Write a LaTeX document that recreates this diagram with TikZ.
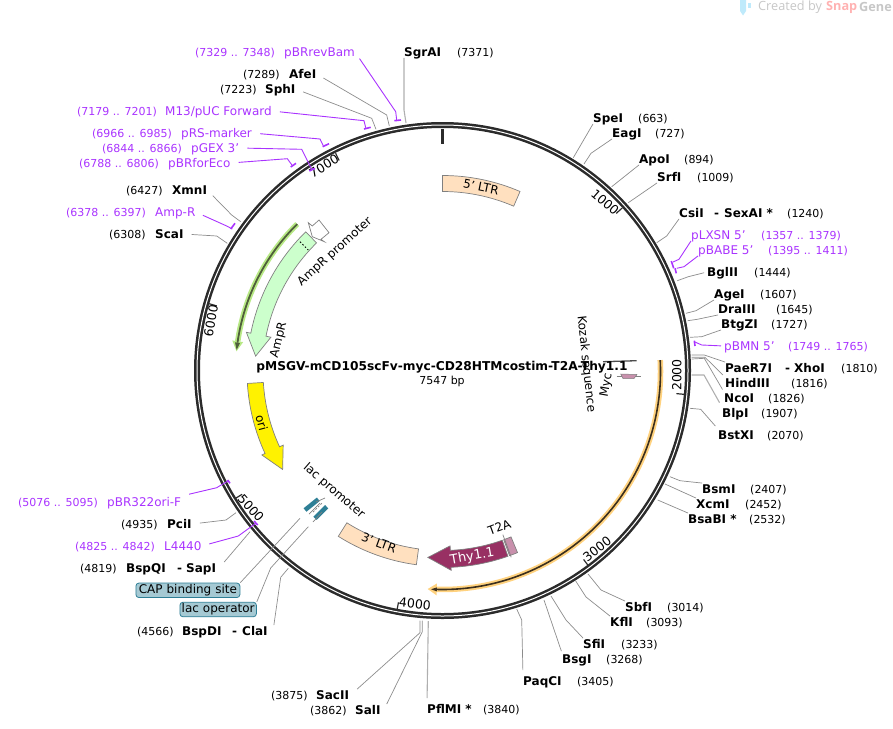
\documentclass[tikz,border=0pt]{standalone}
\usepackage{fontspec}
\setmainfont{DejaVu Sans}
\newfontfamily\markfont{Open Sans}
\definecolor{primerpurple}{HTML}{A933FF}
\definecolor{cutgray}{HTML}{8C8C8C}
\definecolor{ringblack}{HTML}{2B2B2B}
\definecolor{ampgreen}{HTML}{CCFFCC}
\definecolor{ltrorange}{HTML}{FFE0BF}
\definecolor{thyred}{HTML}{983063}
\definecolor{tapink}{HTML}{C890AC}
\definecolor{lacteal}{HTML}{2E7F96}
\definecolor{badgeblue}{HTML}{A5C9D3}
\definecolor{greenglow}{HTML}{B8E986}
\definecolor{greencore}{HTML}{4F5F3A}
\definecolor{orangeglow}{HTML}{FFD27F}
\definecolor{orangecore}{HTML}{3B2F1E}
\tikzset{
  enzyme/.style={anchor=west, inner sep=0pt, text height=10pt, text depth=1.5pt, font=\fontsize{12}{14}\selectfont\bfseries},
  sitepos/.style={anchor=west, inner sep=0pt, text height=10pt, text depth=1.5pt, font=\fontsize{11}{13}\selectfont},
  primer/.style={enzyme, text=primerpurple, font=\fontsize{12}{14}\selectfont},
  primerpos/.style={sitepos, text=primerpurple},
  feature/.style={inner sep=0pt, font=\fontsize{12}{14}\selectfont},
  tickmark/.style={inner sep=0pt, font=\fontsize{12.5}{14}\selectfont},
  cut/.style={draw=cutgray, line width=0.7pt},
  cutb/.style={draw=cutgray!70, line width=1.1pt},
  oligo/.style={draw=primerpurple, line width=0.9pt},
  oligomark/.style={draw=primerpurple, line width=1.6pt},
  gap/.style={shorten <=8pt},
  box/.style={draw=gray, line width=0.7pt},
  badge/.style={draw=lacteal, fill=badgeblue, rounded corners=3pt, line width=0.8pt, inner sep=0pt, minimum height=14.5pt, font=\fontsize{12}{14}\selectfont},
}
\begin{document}
\begin{tikzpicture}[x=1pt, y=-1pt]
    \useasboundingbox (0,0) rectangle (893,728);

    % watermark
    \fill[cyan!25] (740,0) -- (746,0) -- (746,11) -- (743,15.5) -- (740,11) -- cycle;
    \fill[cyan!25] (747.5,2.5) rectangle (750.5,7.5);
    \node[anchor=west, inner sep=0pt, text=black!22, font=\markfont\fontsize{12.7}{14}\selectfont] (madeby) at (758,7) {Created by};
    \node[anchor=west, inner sep=0pt, text=red!30, font=\markfont\bfseries\fontsize{12.7}{14}\selectfont] (snap) at (826,7) {Snap};
    \node[anchor=west, inner sep=0pt, text=black!22, font=\markfont\bfseries\fontsize{12.7}{14}\selectfont] (gene) at (859,7) {Gene};

    % Ring
    \coordinate (c) at (442.5,370.5);
    \draw[ringblack, line width=6pt] (c) circle[radius=245.5];
    \draw[white, line width=1pt] (c) circle[radius=245.5];

    \begin{scope}[shift={(442.5,371.5)}]
    % ticks
    \draw[ringblack, line width=2.5pt] (-90:228) -- (-90:243);
    \draw[ringblack, line width=1.2pt] (-42.3:235) -- (-42.3:243);
    \draw[ringblack, line width=1.2pt] (5.4:235) -- (5.4:243);
    \draw[ringblack, line width=1.2pt] (53.1:235) -- (53.1:243);
    \draw[ringblack, line width=1.2pt] (100.8:235) -- (100.8:243);
    \draw[ringblack, line width=1.2pt] (148.5:235) -- (148.5:243);
    \draw[ringblack, line width=1.2pt] (196.2:235) -- (196.2:243);
    \draw[ringblack, line width=1.2pt] (243.9:235) -- (243.9:243);

    % Features
    \draw[box, fill=ltrorange] (-90:196) arc[start angle=-90, end angle=-66.7, radius=196] -- (-66.7:180) arc[start angle=-66.7, end angle=-90, radius=180] -- cycle;
    \draw[box, fill=ltrorange] (97.7:195) arc[start angle=97.7, end angle=122.3, radius=195] -- (122.3:179) arc[start angle=122.3, end angle=97.7, radius=179] -- cycle;
    \draw[box, fill=ampgreen] (225.6:195.5) arc[start angle=225.6, end angle=191.3, radius=195.5] -- (191.3:200) -- (184.7:187.5) -- (191.3:175) -- (191.3:180) arc[start angle=191.3, end angle=225.6, radius=180] -- cycle;
    \draw[box, fill=yellow] (176.5:195.5) arc[start angle=176.5, end angle=155.2, radius=195.5] -- (155.2:199) -- (148.5:187.5) -- (155.2:175.5) -- (155.2:179.5) arc[start angle=155.2, end angle=176.5, radius=179.5] -- cycle;
    \draw[box, fill=thyred] (70.5:196) arc[start angle=70.5, end angle=87.5, radius=196] -- (87.5:199) -- (94.5:186.5) -- (87.5:174.5) -- (87.5:179) arc[start angle=87.5, end angle=70.5, radius=179] -- cycle;
    \draw[box, fill=tapink] (67.5:196) arc[start angle=67.5, end angle=70, radius=196] -- (70:179) arc[start angle=70, end angle=67.5, radius=179] -- cycle;
    \draw[gray, line width=0.7pt] (69.7:174) -- (69.7:198);

    % Pfeile mit Rand
    \draw[greenglow, line width=5.5pt] (225.4:207) arc[start angle=225.4, end angle=188.4, radius=207];
    \fill[greenglow] (188.4:212.5) -- (185.6:207) -- (188.4:201.5) -- cycle;
    \draw[greencore, line width=1.8pt] (225.4:207) arc[start angle=225.4, end angle=188, radius=207];
    \fill[greencore] (188:209.5) -- (186:207) -- (188:204.5) -- cycle;

    \draw[orangeglow, line width=5.5pt] (-3:218) arc[start angle=-3, end angle=91.5, radius=218];
    \fill[orangeglow] (91.5:224) -- (93.9:218) -- (91.5:212) -- cycle;
    \draw[orangecore, line width=1.6pt] (-3:218) arc[start angle=-3, end angle=91.5, radius=218];
    \fill[orangecore] (91.5:220) -- (93:218) -- (91.5:216) -- cycle;
    \end{scope}

    % AmpR promoter
    \draw[box, fill=white] (319,220) -- (329,232.7) -- (321,239.3) -- (324.3,241.7) -- (312.3,236.7) -- (308.3,222.7) -- (312.3,226) -- cycle;
    \draw[black, dashed, dash pattern=on 1.5pt off 2pt, line width=0.8pt] (300,241.7) -- (308.3,250);

    % lac promoter
    \draw[lacteal, line width=4.5pt] (305,510) -- (318.3,499.3);
    \draw[lacteal, line width=4.5pt] (315,518.3) -- (326.7,506.7);
    \draw[gray, line width=0.7pt] (309,514) -- (320,503);
    \draw[gray, line width=0.7pt, dashed, dash pattern=on 2pt off 1.5pt] (313,512) -- (322,503);
    \draw[gray, line width=0.7pt] (313,522) -- (322,512);
    \draw[gray, line width=0.7pt] (316,502) -- (325,498);

    % Myc und Kozak
    \draw[gray, line width=0.7pt] (616.7,376) -- (640.7,376);
    \fill[tapink, draw=gray, line width=0.5pt] (620.7,374) -- (637,374.5) -- (634,378.5) -- (623,378.5) -- cycle;
    \draw[black!70, line width=1.3pt] (603,361.7) -- (636.7,360.7);
    \node[feature, rotate=-84] (kozak) at (586,364) {Kozak sequence};
    \node[feature, rotate=80] (myc) at (606.7,385) {Myc};

    % tick labels
    \node[tickmark, rotate=-41] (t1000) at (605,202) {1000};
    \node[tickmark, rotate=90] (t2000) at (676.7,375) {2000};
    \node[tickmark, rotate=38] (t3000) at (597,549) {3000};
    \node[tickmark, rotate=-6] (t4000) at (415,604) {4000};
    \node[tickmark, rotate=-48] (t5000) at (251,508) {5000};
    \node[tickmark, rotate=80] (t6000) at (211,321) {6000};
    \node[tickmark, rotate=31] (t7000) at (324,166) {7000};

    % feature labels
    \node[feature, rotate=-11.5] (ltrfive) at (481,187) {5' LTR};
    \node[feature, rotate=-20] (ltrthree) at (379,543) {3' LTR};
    \node[feature, rotate=10, text=white, font=\fontsize{13}{14}\selectfont] (thy) at (472.3,556.7) {Thy1.1};
    \node[feature, rotate=20] (tta) at (499.3,527.3) {T2A};
    \node[feature, rotate=42] (amppro) at (335,252) {AmpR promoter};
    \node[feature, rotate=76] (ampr) at (279,340) {AmpR};
    \node[feature, rotate=-75] (ori) at (261.7,422.7) {ori};
    \node[feature, rotate=-41] (lacpro) at (334,491) {lac promoter};

    % title
    \node[inner sep=0pt, font=\fontsize{12.2}{14}\selectfont\bfseries] (title) at (442,367) {pMSGV-mCD105scFv-myc-CD28HTMcostim-T2A-Thy1.1};
    \node[inner sep=0pt, font=\fontsize{11}{13}\selectfont] (size) at (442,381) {7547 bp};

    % oben links
    \node[enzyme] (SgrAI) at (404,52) {SgrAI};
    \node[sitepos] (SgrAIpos) at (457,52) {(7371)};
    \coordinate (SgrAIe) at (404,110); \coordinate (SgrAIr) at (406,123);
    \draw[cutb] (SgrAI.south west) -- (SgrAIe) -- (SgrAIr);

    \node[sitepos] (AfeIpos) at (243,74) {(7289)};
    \node[enzyme] (AfeI) at (289,74) {AfeI};
    \coordinate (AfeIe) at (386.7,115); \coordinate (AfeIr) at (389.3,126);
    \draw[cut, gap] (AfeI.east) -- (AfeIe) -- (AfeIr);

    \node[sitepos] (SphIpos) at (220,89) {(7223)};
    \node[enzyme] (SphI) at (265,89) {SphI};
    \coordinate (SphIe) at (371.7,118.3); \coordinate (SphIr) at (376,129.3);
    \draw[cut, gap] (SphI.east) -- (SphIe) -- (SphIr);

    \node[primerpos] (bamrange) at (195,52) {(7329 .. 7348)};
    \node[primer] (bam) at (284,52) {pBRrevBam};
    \coordinate (bame) at (395.7,111.7); \coordinate (bamr) at (396.7,120);
    \coordinate (bamma) at (394.3,120.7); \coordinate (bammb) at (401,120);
    \draw[oligo, gap] (bam.east) -- (bame) -- (bamr);
    \draw[oligomark] (bamma) -- (bammb);

    \node[primerpos] (m13range) at (77,111) {(7179 .. 7201)};
    \node[primer] (m13) at (165,111) {M13/pUC Forward};
    \coordinate (m13e) at (364,120.7); \coordinate (m13r) at (365.7,127.7);
    \coordinate (m13ma) at (364,129); \coordinate (m13mb) at (370.7,127.3);
    \draw[oligo, gap] (m13.east) -- (m13e) -- (m13r);
    \draw[oligomark] (m13ma) -- (m13mb);

    \node[primerpos] (prsrange) at (92,133) {(6966 .. 6985)};
    \node[primer] (prs) at (181,133) {pRS-marker};
    \coordinate (prse) at (320,139); \coordinate (prsr) at (323.3,145.7);
    \coordinate (prsma) at (322.7,146.7); \coordinate (prsmb) at (329,143.7);
    \draw[oligo, gap] (prs.east) -- (prse) -- (prsr);
    \draw[oligomark] (prsma) -- (prsmb);

    \node[primerpos] (gexrange) at (102,148) {(6844 .. 6866)};
    \node[primer] (gex) at (191,148) {pGEX 3'};
    \coordinate (gexe) at (301.7,149.3); \coordinate (gexr) at (311.7,169.3);
    \coordinate (gexma) at (309.3,171); \coordinate (gexmb) at (315,168.3);
    \draw[oligo, gap] (gex.east) -- (gexe) -- (gexr);
    \draw[oligomark] (gexma) -- (gexmb);

    \node[primerpos] (ecorange) at (79,163) {(6788 .. 6806)};
    \node[primer] (eco) at (168,163) {pBRforEco};
    \coordinate (ecoe) at (287.3,158.7); \coordinate (ecor) at (292.7,166);
    \coordinate (ecoma) at (290.7,167); \coordinate (ecomb) at (296,163.3);
    \draw[oligo, gap] (eco.east) -- (ecoe) -- (ecor);
    \draw[oligomark] (ecoma) -- (ecomb);

    \node[sitepos] (XmnIpos) at (126,190) {(6427)};
    \node[enzyme] (XmnI) at (172,190) {XmnI};
    \coordinate (XmnIe) at (231.7,215); \coordinate (XmnIr) at (240.7,221.7);
    \draw[cut, gap] (XmnI.east) -- (XmnIe) -- (XmnIr);

    \node[primerpos] (amprange) at (66,212) {(6378 .. 6397)};
    \node[primer] (amp) at (155,212) {Amp-R};
    \coordinate (ampe) at (226.7,226); \coordinate (ampend) at (232.3,229);
    \coordinate (ampma) at (230.7,229); \coordinate (ampmb) at (235,223.3);
    \draw[oligo, gap] (amp.east) -- (ampe) -- (ampend);
    \draw[oligomark] (ampma) -- (ampmb);

    \node[sitepos] (ScaIpos) at (109,234) {(6308)};
    \node[enzyme] (ScaI) at (155,234) {ScaI};
    \coordinate (ScaIe) at (216.7,236); \coordinate (ScaIr) at (227.3,243.3);
    \draw[cut, gap] (ScaI.east) -- (ScaIe) -- (ScaIr);

    % oben rechts
    \node[enzyme] (SpeI) at (593,118) {SpeI};
    \node[sitepos] (SpeIpos) at (638,118) {(663)};
    \coordinate (SpeIr) at (573.3,157.7);
    \draw[cut] (SpeI.south west) -- (SpeIr);

    \node[enzyme] (EagI) at (612,133) {EagI};
    \node[sitepos] (EagIpos) at (655,133) {(727)};
    \coordinate (EagIe) at (591,153.3); \coordinate (EagIr) at (584,164);
    \draw[cut] (EagI.south west) -- (EagIe) -- (EagIr);

    \node[enzyme] (ApoI) at (639,159) {ApoI};
    \node[sitepos] (ApoIpos) at (684,159) {(894)};
    \coordinate (ApoIr) at (611.7,186.7);
    \draw[cut] (ApoI.south west) -- (ApoIr);

    \node[enzyme] (SrfI) at (657,177) {SrfI};
    \node[sitepos] (SrfIpos) at (697,177) {(1009)};
    \coordinate (SrfIr) at (628.3,202.7);
    \draw[cut] (SrfI.south west) -- (SrfIr);

    \node[enzyme] (CsiI) at (679,213) {CsiI};
    \node[enzyme] (dashsex) at (714,213) {-};
    \node[enzyme] (SexAI) at (724,213) {SexAI *};
    \node[sitepos] (SexAIpos) at (787,213) {(1240)};
    \coordinate (CsiIe) at (666.7,236); \coordinate (CsiIr) at (656.7,242.7);
    \draw[cut] (CsiI.south west) -- (CsiIe) -- (CsiIr);

    \node[primer] (lxsn) at (691,235) {pLXSN 5'};
    \node[primerpos] (lxsnrange) at (761,235) {(1357 .. 1379)};
    \coordinate (lxsne) at (679,259.3); \coordinate (lxsnr) at (673,262);
    \coordinate (lxsnma) at (671.3,261); \coordinate (lxsnmb) at (673.7,268.3);
    \draw[oligo] (lxsn.south west) -- (lxsne) -- (lxsnr);
    \draw[oligomark] (lxsnma) -- (lxsnmb);

    \node[primer] (babe) at (698,250) {pBABE 5'};
    \node[primerpos] (baberange) at (768,250) {(1395 .. 1411)};
    \coordinate (babee) at (684,266.7); \coordinate (baber) at (676.7,268.3);
    \coordinate (babema) at (675,268.3); \coordinate (babemb) at (676.3,273.3);
    \draw[oligo] (babe.south west) -- (babee) -- (baber);
    \draw[oligomark] (babema) -- (babemb);

    \node[enzyme] (BglII) at (707,272) {BglII};
    \node[sitepos] (BglIIpos) at (754,272) {(1444)};
    \coordinate (BglIIe) at (688.3,276.7); \coordinate (BglIIr) at (677.3,280.7);
    \draw[cut, shorten <=3pt] (BglII.west) -- (BglIIe) -- (BglIIr);

    \node[enzyme] (AgeI) at (714,294) {AgeI};
    \node[sitepos] (AgeIpos) at (760,294) {(1607)};
    \coordinate (AgeIe) at (696,310.7); \coordinate (AgeIr) at (686,313.3);
    \draw[cut] (AgeI.south west) -- (AgeIe) -- (AgeIr);

    \node[enzyme] (DraIII) at (718,309) {DraIII};
    \node[sitepos] (DraIIIpos) at (776,309) {(1645)};
    \coordinate (DraIIIe) at (697.3,319.3); \coordinate (DraIIIr) at (687.7,320.7);
    \draw[cut] (DraIII.south west) -- (DraIIIe) -- (DraIIIr);

    \node[enzyme] (BtgZI) at (721,324) {BtgZI};
    \node[sitepos] (BtgZIpos) at (771,324) {(1727)};
    \coordinate (BtgZIe) at (701.7,336.7); \coordinate (BtgZIr) at (690,337.3);
    \draw[cut] (BtgZI.south west) -- (BtgZIe) -- (BtgZIr);

    \node[primer] (bmn) at (724,346) {pBMN 5'};
    \node[primerpos] (bmnrange) at (788,346) {(1749 .. 1765)};
    \coordinate (bmne) at (701.7,345); \coordinate (bmnr) at (694.3,341.7);
    \coordinate (bmnma) at (694.3,340.7); \coordinate (bmnmb) at (695,346);
    \draw[oligo, shorten <=3pt] (bmn.west) -- (bmne) -- (bmnr);
    \draw[oligomark] (bmnma) -- (bmnmb);

    % rechts
    \node[enzyme] (PaeR7I) at (725,368) {PaeR7I};
    \node[enzyme] (dashxho) at (785,368) {-};
    \node[enzyme] (XhoI) at (794,368) {XhoI};
    \node[sitepos] (XhoIpos) at (841,368) {(1810)};
    \coordinate (PaeR7Ie) at (704.3,355); \coordinate (PaeR7Ir) at (691.7,355);
    \draw[cut] (PaeR7I.north west) -- (PaeR7Ie) -- (PaeR7Ir);

    \node[enzyme] (HindIII) at (725,383) {HindIII};
    \node[sitepos] (HindIIIpos) at (791,383) {(1816)};
    \coordinate (HindIIIe) at (705,357.3); \coordinate (HindIIIr) at (691.7,357.3);
    \draw[cut, shorten <=3pt] (HindIII.north west) -- (HindIIIe) -- (HindIIIr);

    \node[enzyme] (NcoI) at (724,398) {NcoI};
    \node[sitepos] (NcoIpos) at (768,398) {(1826)};
    \coordinate (NcoIe) at (704.3,358.3); \coordinate (NcoIr) at (691.7,359);
    \draw[cut, shorten <=3pt] (NcoI.north west) -- (NcoIe) -- (NcoIr);

    \node[enzyme] (BlpI) at (722,413) {BlpI};
    \node[sitepos] (BlpIpos) at (761,413) {(1907)};
    \coordinate (BlpIe) at (704,375); \coordinate (BlpIr) at (691.7,375);
    \draw[cutb, shorten <=5pt] (BlpI.north west) -- (BlpIe) -- (BlpIr);

    \node[enzyme] (BstXI) at (718,435) {BstXI};
    \node[sitepos] (BstXIpos) at (767,435) {(2070)};
    \coordinate (BstXIe) at (700.7,409.3); \coordinate (BstXIr) at (690,408.3);
    \draw[cut, shorten <=4pt] (BstXI.north west) -- (BstXIe) -- (BstXIr);

    \node[enzyme] (BsmI) at (702,489) {BsmI};
    \node[sitepos] (BsmIpos) at (750,489) {(2407)};
    \coordinate (BsmIe) at (680,480.7); \coordinate (BsmIr) at (670,476.7);
    \draw[cut] (BsmI.north west) -- (BsmIe) -- (BsmIr);

    \node[enzyme] (XcmI) at (696,504) {XcmI};
    \node[sitepos] (XcmIpos) at (745,504) {(2452)};
    \coordinate (XcmIr) at (665,484);
    \draw[cut] (XcmI.north west) -- (XcmIr);

    \node[enzyme] (BsaBI) at (688,519) {BsaBI *};
    \node[sitepos] (BsaBIpos) at (749,519) {(2532)};
    \coordinate (BsaBIr) at (657.7,500);
    \draw[cut] (BsaBI.north west) -- (BsaBIr);

    % unten
    \node[enzyme] (SbfI) at (625,607) {SbfI};
    \node[sitepos] (SbfIpos) at (667,607) {(3014)};
    \coordinate (SbfIe) at (601,590); \coordinate (SbfIr) at (588,574);
    \draw[cut] (SbfI.north west) -- (SbfIe) -- (SbfIr);

    \node[enzyme] (KflI) at (610,622) {KflI};
    \node[sitepos] (KflIpos) at (646,622) {(3093)};
    \coordinate (KflIe) at (586,597); \coordinate (KflIr) at (575.7,581);
    \draw[cut] (KflI.north west) -- (KflIe) -- (KflIr);

    \node[enzyme] (SfiI) at (583,644) {SfiI};
    \node[sitepos] (SfiIpos) at (621,644) {(3233)};
    \coordinate (SfiIe) at (566,620); \coordinate (SfiIr) at (551,596);
    \draw[cut] (SfiI.north west) -- (SfiIe) -- (SfiIr);

    \node[enzyme] (BsgI) at (562,659) {BsgI};
    \node[sitepos] (BsgIpos) at (606,659) {(3268)};
    \coordinate (BsgIr) at (544,600);
    \draw[cut, shorten <=2pt] (BsgI.north west) -- (BsgIr);

    \node[enzyme] (PaqCI) at (523,681) {PaqCI};
    \node[sitepos] (PaqCIpos) at (577,681) {(3405)};
    \coordinate (PaqCIe) at (521.7,620); \coordinate (PaqCIr) at (516.7,609);
    \draw[cut, shorten <=5pt] (PaqCI.north west) -- (PaqCIe) -- (PaqCIr);

    \node[enzyme] (PflMI) at (427,709) {PflMI *};
    \node[sitepos] (PflMIpos) at (483,709) {(3840)};
    \coordinate (PflMIr) at (428.3,621);
    \draw[cutb, shorten <=5pt] (PflMI.north west) -- (PflMIr);

    \node[sitepos] (SalIpos) at (310,710) {(3862)};
    \node[enzyme] (SalI) at (355,710) {SalI};
    \coordinate (SalIe) at (422.3,631.7); \coordinate (SalIr) at (422.3,620.7);
    \draw[cut] ([xshift=6pt]SalI.north east) -- (SalIe) -- (SalIr);

    \node[sitepos] (SacIIpos) at (271,695) {(3875)};
    \node[enzyme] (SacII) at (316,695) {SacII};
    \coordinate (SacIIe) at (420,632.7); \coordinate (SacIIr) at (420,620.7);
    \draw[cut] ([xshift=8pt]SacII.north east) -- (SacIIe) -- (SacIIr);

    % unten links
    \node[sitepos] (BspDIpos) at (137,631) {(4566)};
    \node[enzyme] (BspDI) at (182,631) {BspDI};
    \node[enzyme] (dashcla) at (232,631) {-};
    \node[enzyme] (ClaI) at (242,631) {ClaI};
    \coordinate (ClaIe) at (280.7,577.3); \coordinate (ClaIr) at (288.3,568.3);
    \draw[cut] ([xshift=6pt]ClaI.north east) -- (ClaIe) -- (ClaIr);

    \node[badge, anchor=west, text width=104pt, align=center] (cap) at (135.5,590.3) {CAP binding site};
    \coordinate (capr) at (300,518.3);
    \draw[cut] (cap.north east) -- (capr);

    \node[badge, anchor=west, text width=76.5pt, align=center] (lacop) at (179.5,609.5) {lac operator};
    \coordinate (lacope) at (270.7,568); \coordinate (lacopr) at (308.3,526.7);
    \draw[cut] (lacop.north east) -- (lacope) -- (lacopr);

    \node[sitepos] (BspQIpos) at (80,568) {(4819)};
    \node[enzyme] (BspQI) at (126,568) {BspQI};
    \node[enzyme] (dashsap) at (177,568) {-};
    \node[enzyme] (SapI) at (186,568) {SapI};
    \coordinate (SapIr) at (250,531.7);
    \draw[cut] ([xshift=8pt]SapI.north east) -- (SapIr);

    \node[primerpos] (l44range) at (75,546) {(4825 .. 4842)};
    \node[primer] (l44) at (164,546) {L4440};
    \coordinate (l44e) at (238.3,536); \coordinate (l44r) at (255.5,523.5);
    \coordinate (l44ma) at (254,521); \coordinate (l44mb) at (257.7,525);
    \draw[oligo, gap] (l44.east) -- (l44e) -- (l44r);
    \draw[oligomark] (l44ma) -- (l44mb);

    \node[sitepos] (PciIpos) at (121,524) {(4935)};
    \node[enzyme] (PciI) at (167,524) {PciI};
    \coordinate (PciIe) at (226,520); \coordinate (PciIr) at (236,512.7);
    \draw[cut, gap] (PciI.east) -- (PciIe) -- (PciIr);

    \node[primerpos] (orifrange) at (18,502) {(5076 .. 5095)};
    \node[primer] (orif) at (107,502) {pBR322ori-F};
    \coordinate (orife) at (216.7,487.7); \coordinate (orifr) at (228.3,480.7);
    \coordinate (orifma) at (227.7,480); \coordinate (orifmb) at (230,483.3);
    \draw[oligo, gap] (orif.north east) -- (orife) -- (orifr);
    \draw[oligomark] (orifma) -- (orifmb);
\end{tikzpicture}
\end{document}
